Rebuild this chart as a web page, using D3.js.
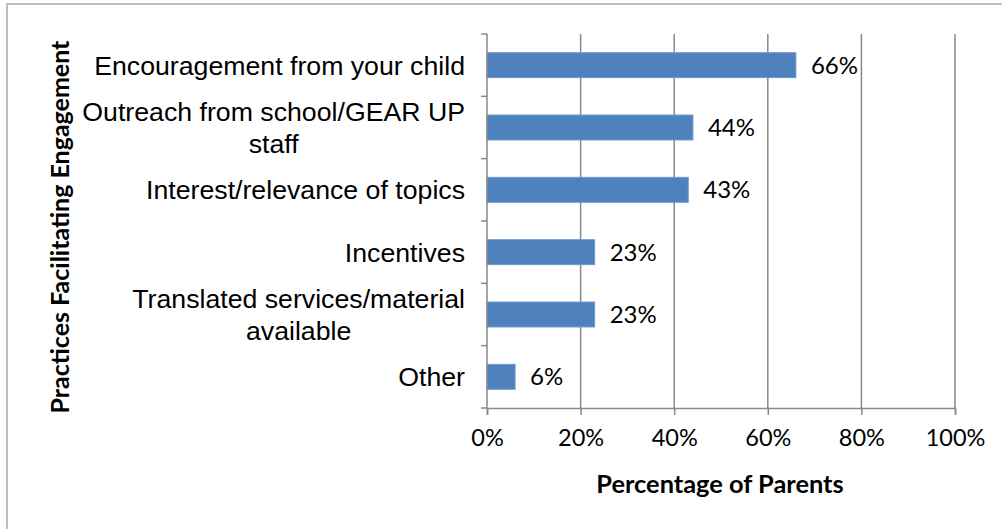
<!DOCTYPE html>
<html>
<head>
<meta charset="utf-8">
<script src="https://cdn.jsdelivr.net/npm/d3@7"></script>
<style>
  html, body { margin: 0; padding: 0; background: #fff; }
  svg { display: block; }
</style>
</head>
<body>
<svg id="chart" width="1002" height="529"></svg>
<script>
// Practices facilitating parent engagement (share of parents)
const categories = [
  ["Encouragement from your child"],
  ["Outreach from school/GEAR UP", "staff"],
  ["Interest/relevance of topics"],
  ["Incentives"],
  ["Translated services/material", "available"],
  ["Other"]
];
const values = [66, 44, 43, 23, 23, 6];
const xTicks = [0, 20, 40, 60, 80, 100];
const xTitle = "Percentage of Parents";
const yTitle = "Practices Facilitating Engagement";

const svg = d3.select("#chart");
const W = 1002, H = 529;
const plot = { left: 487, right: 955, top: 34, bottom: 408 };

const gridColor = "#898989";
const barColor = "#4f81bd";
const labelFont = "'Liberation Sans', Arial, sans-serif";
const numFont = "Lato, 'Open Sans', sans-serif";

// outer frame (left and top edges)
svg.append("path")
  .attr("d", `M7,${H} V4 H${W}`)
  .attr("fill", "none")
  .attr("stroke", "#bfbfbf")
  .attr("stroke-width", 2);

const x = d3.scaleLinear().domain([0, 100]).range([plot.left, plot.right]);
const keys = categories.map((c, i) => i);
const y = d3.scaleBand().domain(keys).range([plot.top, plot.bottom]).paddingInner(0.6).paddingOuter(0.3);

// vertical gridlines
svg.append("g")
  .selectAll("line")
  .data(xTicks.slice(1))
  .join("line")
  .attr("x1", d => x(d)).attr("x2", d => x(d))
  .attr("y1", plot.top).attr("y2", plot.bottom)
  .attr("stroke", gridColor).attr("stroke-width", 1.5);

// bars
svg.append("g")
  .selectAll("rect")
  .data(values)
  .join("rect")
  .attr("x", x(0))
  .attr("y", (d, i) => y(i))
  .attr("width", d => x(d) - x(0))
  .attr("height", y.bandwidth())
  .attr("fill", barColor)
  .attr("stroke", "#6f98cc")
  .attr("stroke-width", 1);

// value labels
svg.append("g")
  .selectAll("text")
  .data(values)
  .join("text")
  .attr("x", d => x(d) + 15)
  .attr("y", (d, i) => y(i) + y.bandwidth() / 2)
  .attr("dy", "0.36em")
  .attr("font-family", numFont)
  .attr("font-size", 24)
  .attr("fill", "#000")
  .text(d => d + "%");

// x axis
const xAxis = d3.axisBottom(x)
  .tickValues(xTicks)
  .tickFormat(d => d + "%")
  .tickSize(7)
  .tickPadding(14);
const gx = svg.append("g")
  .attr("transform", `translate(0,${plot.bottom})`)
  .call(xAxis);
gx.select(".domain").attr("stroke", gridColor).attr("stroke-width", 1.5);
gx.selectAll(".tick line").attr("stroke", gridColor).attr("stroke-width", 1.5);
gx.selectAll(".tick text")
  .attr("font-family", numFont)
  .attr("font-size", 23.5)
  .attr("fill", "#000");

// y axis: ticks at band boundaries
const step = (plot.bottom - plot.top) / categories.length;
const bounds = d3.range(categories.length + 1).map(i => plot.top + i * step);
const gy = svg.append("g");
gy.append("line")
  .attr("x1", plot.left).attr("x2", plot.left)
  .attr("y1", plot.top).attr("y2", plot.bottom)
  .attr("stroke", gridColor).attr("stroke-width", 1.5);
gy.selectAll("line.tk")
  .data(bounds)
  .join("line")
  .attr("class", "tk")
  .attr("x1", plot.left - 6).attr("x2", plot.left)
  .attr("y1", d => d).attr("y2", d => d)
  .attr("stroke", gridColor).attr("stroke-width", 1.5);

// category labels, multi-line labels centred within a right-aligned block
const labelRight = 465;
const lineH = 32;
categories.forEach((lines, i) => {
  const cy = y(i) + y.bandwidth() / 2;
  const g = svg.append("g");
  const texts = lines.map((ln, j) =>
    g.append("text")
      .attr("font-family", labelFont)
      .attr("font-size", 26.7)
      .attr("fill", "#000")
      .attr("y", cy + (j - (lines.length - 1) / 2) * lineH)
      .attr("dy", "0.35em")
      .text(ln)
  );
  const widths = texts.map(t => t.node().getComputedTextLength());
  const maxW = d3.max(widths);
  const center = labelRight - maxW / 2;
  texts.forEach(t => t.attr("x", center).attr("text-anchor", "middle"));
});

// axis titles
svg.append("text")
  .attr("x", 720)
  .attr("y", 484)
  .attr("dy", "0.35em")
  .attr("text-anchor", "middle")
  .attr("font-family", numFont)
  .attr("font-weight", "bold")
  .attr("font-size", 25.4)
  .attr("fill", "#000")
  .text(xTitle);

svg.append("text")
  .attr("transform", `translate(60,${(plot.top + plot.bottom) / 2 + 6}) rotate(-90)`)
  .attr("dy", "0.35em")
  .attr("text-anchor", "middle")
  .attr("font-family", numFont)
  .attr("font-weight", "bold")
  .attr("font-size", 25)
  .attr("fill", "#000")
  .text(yTitle);
</script>
</body>
</html>
